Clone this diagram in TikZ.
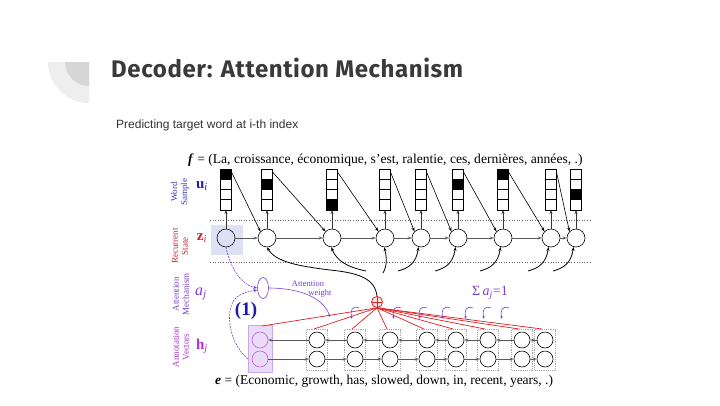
\documentclass[tikz,border=0pt]{standalone}
\usepackage{fontspec}
\setmainfont{Liberation Serif}
\newfontfamily\sansfont{Liberation Sans}
\newfontfamily\titlefont[LetterSpace=2.5]{Fira Sans}
\usetikzlibrary{arrows.meta,calc,shapes.geometric}
\definecolor{titlegray}{HTML}{3A3A3A}
\definecolor{subgray}{HTML}{333333}
\definecolor{decoOuter}{HTML}{EEEEEE}
\definecolor{decoInner}{HTML}{D6D6D6}
\definecolor{wsblue}{HTML}{3A3AB0}
\definecolor{ublue}{HTML}{1E1E9E}
\definecolor{rsred}{HTML}{CC2233}
\definecolor{attpurple}{HTML}{7A40D0}
\definecolor{annmag}{HTML}{B030D0}
\definecolor{zhl}{HTML}{DDE1F6}
\definecolor{hhl}{HTML}{EADCF8}
\definecolor{hhlborder}{HTML}{C8A8EC}
\definecolor{plred}{HTML}{E02020}
\definecolor{onecol}{HTML}{1A1AB0}
\begin{document}
\begin{tikzpicture}[x=1pt,y=-1pt,
  ubox/.style={draw, line width=0.8pt, minimum width=11pt, minimum height=10.25pt, inner sep=0pt, outer sep=0pt},
  zc/.style={circle, draw, line width=0.6pt, minimum size=18pt, inner sep=0pt},
  hc/.style={circle, draw, line width=0.6pt, minimum size=16pt, inner sep=0pt},
  hbox/.style={draw=gray!70, dash pattern=on 1.2pt off 1pt, line width=0.4pt, minimum width=21pt, minimum height=41pt, inner sep=0pt},
  arr/.style={-{Stealth[length=4pt,width=3pt]}},
  harrow/.style={arr, draw=black!65, line width=0.7pt},
  uparrow/.style={arr, draw=black!80, line width=0.6pt},
  diagarrow/.style={arr, draw=black, line width=0.6pt},
  ctxarrow/.style={arr, draw=black, line width=0.8pt},
  dotline/.style={draw=black!60, line width=0.6pt, dotted},
  redline/.style={draw=plred, line width=0.7pt},
  hookarrow/.style={-{Stealth[length=3pt,width=2.5pt]}, draw=attpurple, line width=0.6pt},
  plusnode/.style={circle, draw=plred, fill=plred!12, line width=0.6pt, minimum size=11pt, inner sep=0pt,
    path picture={\draw[plred, line width=0.6pt] (path picture bounding box.north) -- (path picture bounding box.south) (path picture bounding box.west) -- (path picture bounding box.east);}},
  sidelabel/.style={rotate=90, align=center, font=\fontsize{9}{10}\selectfont}
]
\useasboundingbox (0,0) rectangle (720,405);
\fill[white] (0,0) rectangle (720,405);
% decoration
\fill[decoOuter] (89,62) -- (48,62) arc[start angle=180, end angle=270, radius=41pt] -- cycle;
\fill[decoInner] (89,62) -- (65,62) arc[start angle=180, end angle=270, radius=24pt] -- cycle;
% title
\node[anchor=base west, inner sep=0, text=titlegray, font=\titlefont\bfseries\fontsize{24}{28}\selectfont] (title) at (111,77) {Decoder: Attention Mechanism};
\node[anchor=base west, inner sep=0, text=subgray, font=\sansfont\fontsize{12}{14}\selectfont] (sub) at (116,128.5) {Predicting target word at i-th index};
% f sentence
\node[anchor=base west, inner sep=0, font=\fontsize{13.6}{15}\selectfont] (ftext) at (188,163) {\textbf{\textit{f}} = (La, croissance, économique, s'est, ralentie, ces, dernières, années, .)};
% side labels
\node[sidelabel, text=wsblue] (lws) at (180,192) {Word\\Sample};
\node[sidelabel, text=rsred] (lrs) at (180,246) {Recurrent\\State};
\node[sidelabel, text=attpurple] (lam) at (181,294) {Attention\\Mechanism};
\node[sidelabel, text=annmag] (lav) at (181,347) {Annotation\\Vectors};
\node[text=ublue, font=\fontsize{15}{16}\selectfont] (lu) at (202,186) {\textbf{u}\textsubscript{\textit{i}}};
\node[text=rsred, font=\fontsize{15}{16}\selectfont] (lz) at (202,238) {\textbf{z}\textsubscript{\textit{i}}};
\node[text=attpurple, font=\fontsize{16}{17}\selectfont] (la) at (201,294) {\textit{a}\textsubscript{\textit{j}}};
\node[text=annmag, font=\fontsize{15}{16}\selectfont] (lh) at (202,346) {\textbf{h}\textsubscript{\textit{j}}};
% dotted separators
\coordinate (d1l) at (210,220); \coordinate (d1r) at (590,220);
\coordinate (d2l) at (210,262); \coordinate (d2r) at (590,262);
\draw[dotline] (d1l) -- (d1r);
\draw[dotline] (d2l) -- (d2r);
% highlight of z1
\node[fill=zhl, minimum width=32pt, minimum height=30pt, inner sep=0] (zhlbox) at (227,240) {};
% z circles and word-sample boxes
\foreach \x [count=\i] in {226,267,332,385,421,458,503,551,576} {
  \node[zc] (z\i) at (\x,238) {};
  \foreach \r in {1,...,4} \node[ubox] (u\i-\r) at (\x,{174.125+10.25*(\r-1)}) {};
}
\foreach \i/\r in {1/1,2/2,3/4,6/2,7/1,9/3} \node[ubox, fill=black] at (u\i-\r) {};
\foreach \i in {1,...,9} \draw[uparrow] (z\i.north) -- (u\i-4.south);
\foreach \i [count=\j from 2] in {1,...,8} {
  \draw[harrow] (z\i.east) -- (z\j.west);
  \draw[diagarrow] ($(u\i-1.north east)+(0,3)$) -- (z\j.north west);
}
% plus node
\node[plusnode] (plus) at (377,302) {};
% context curves
\draw[ctxarrow] (plus.north) .. controls (375,279) and (360,273) .. (330,270) .. controls (298,266) and (276,262) .. (z2.south);
\draw[ctxarrow] (366,271) .. controls (347,267) and (337,261) .. (z3.265);
\draw[ctxarrow] (383,273) .. controls (387,266) and (387,258) .. (z4.265);
\foreach \i/\x in {5/421,6/458,7/503,8/551,9/576}
  \draw[ctxarrow] ({\x-23},271) .. controls ({\x-12},268) and ({\x-5},263) .. (z\i.255);
% annotation columns
\node[fill=hhl, draw=hhlborder, line width=0.5pt, minimum width=24pt, minimum height=47pt, inner sep=0] (hb1) at (260,348.5) {};
\foreach \x [count=\i] in {260,317,355,390,427,456,488,522,545} {
  \ifnum\i>1 \node[hbox] (hb\i) at (\x,349.5) {}; \fi
}
\foreach \x [count=\i] in {260,317,355,390,427,456,488,522,545} {
  \ifnum\i=1
    \node[hc, draw=annmag!80] (hu\i) at (\x,340) {};
    \node[hc, draw=annmag!80] (hl\i) at (\x,359) {};
  \else
    \node[hc] (hu\i) at (\x,340) {};
    \node[hc] (hl\i) at (\x,359) {};
  \fi
}
\foreach \i [count=\j from 2] in {1,...,8} {
  \draw[harrow] (hu\j.west) -- (hu\i.east);
  \draw[harrow] (hl\i.east) -- (hl\j.west);
}
% red lines from plus to annotations
\draw[redline] (plus.south) -- (262,326);
\foreach \x in {317,355,390,427,456,488,522,545}
  \draw[redline] (plus.south) -- ({\x-3},329);
\node[plusnode] at (plus) {};
% attention ellipse
\node[ellipse, draw=attpurple, fill=white, line width=0.6pt, minimum width=11pt, minimum height=21pt, inner sep=0] (att) at (263,288) {};
\draw[arr, draw=attpurple, line width=0.6pt, dash pattern=on 2pt off 1pt] (z1.south) .. controls (229,262) and (238,284) .. (att.west);
\draw[arr, draw=attpurple, line width=0.6pt, dash pattern=on 2pt off 1pt] (hb1.west |- hl1) .. controls (226,340) and (224,302) .. (240,295) .. controls (246,292) and (251,291) .. (att.200);
\draw[hookarrow] (att.east) .. controls (292,288) and (322,294) .. (330,317);
\foreach \x in {353,395,421,444,467,485,503}
  \draw[hookarrow] ({\x+6},308) .. controls ({\x-1},305) and ({\x-3},311) .. ({\x-1},319);
\node[text=attpurple, font=\fontsize{8.5}{9}\selectfont, inner sep=0] (attw1) at (308,284) {Attention};
\node[text=attpurple, font=\fontsize{8.5}{9}\selectfont, inner sep=0] (attw2) at (320,293) {weight};
\node[text=onecol, font=\bfseries\fontsize{19}{20}\selectfont, inner sep=0] (one) at (246,311) {(1)};
\node[text=attpurple, font=\fontsize{14}{15}\selectfont, inner sep=0] (sum) at (490,293) {Σ\,\textit{a}\textsubscript{\textit{j}}=1};
% e sentence
\node[anchor=base west, inner sep=0, font=\fontsize{13.5}{15}\selectfont] (etext) at (215,384) {\textbf{\textit{e}} = (Economic, growth, has, slowed, down, in, recent, years, .)};
\end{tikzpicture}
\end{document}
